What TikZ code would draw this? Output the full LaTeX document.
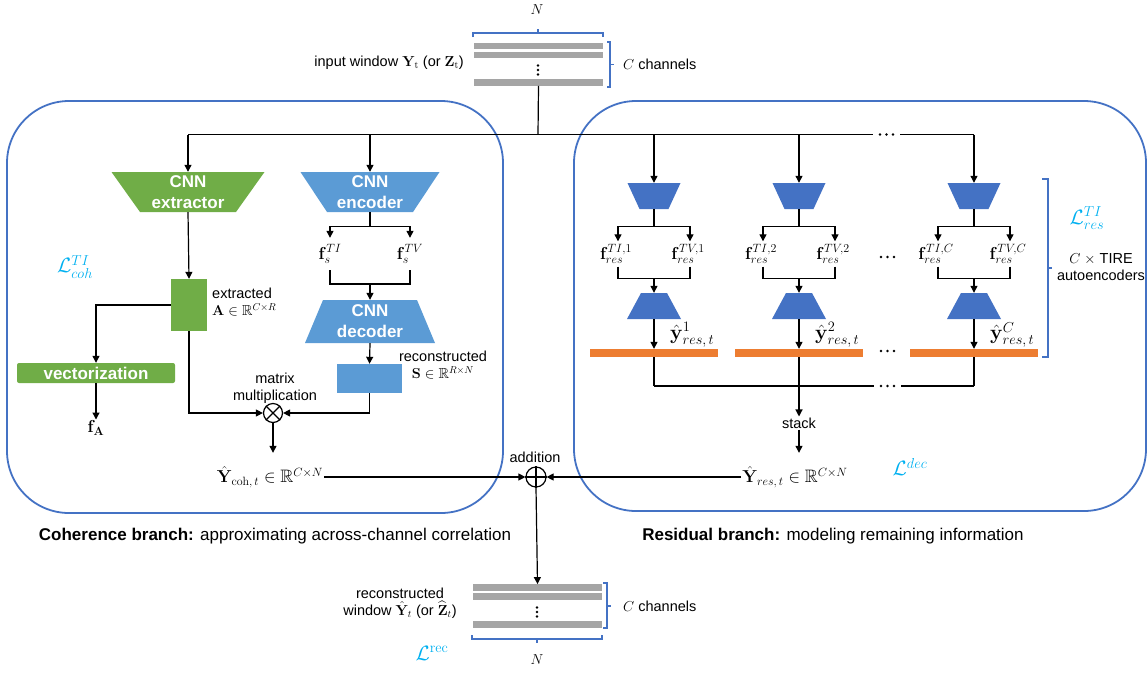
\documentclass[tikz,border=0pt]{standalone}
\usepackage{amssymb}
\usepackage[no-math]{fontspec}
\setmainfont{Liberation Sans}
\usetikzlibrary{arrows.meta,calc}

\definecolor{cgreen}{HTML}{70AD47}
\definecolor{clblue}{HTML}{5B9BD5}
\definecolor{cdblue}{HTML}{4472C4}
\definecolor{corange}{HTML}{ED7D31}
\definecolor{cgray}{HTML}{A5A5A5}
\definecolor{ccyan}{HTML}{00B0F0}

\newcommand\mydotsh[2]{\foreach \dd in {-6.5,0,6.5} \fill ({#1+\dd},#2) circle (1.4pt);}
\newcommand\mydotsv[2]{\foreach \dd in {-4.5,0,4.5} \fill (#1,{#2+\dd}) circle (1.4pt);}

\begin{document}
\begin{tikzpicture}[x=1pt,y=-1pt,
  every node/.style={font=\fontsize{14.5}{17}\selectfont, inner sep=1pt},
  mlbl/.style={font=\fontsize{18}{21}\selectfont},
  mlbll/.style={font=\fontsize{19.5}{23}\selectfont},
  conn/.style={line width=1.2pt, draw=black},
  arr/.style={conn, -{Triangle[length=7pt,width=7pt]}},
  panel/.style={draw=cdblue, line width=1.8pt, rounded corners=62pt},
  brace/.style={draw=cdblue, line width=1.3pt},
  gbar/.style={fill=cgray, draw=none, minimum width=129pt, minimum height=6.5pt, inner sep=0pt},
  obar/.style={fill=corange, draw=none, minimum width=128pt, minimum height=8pt, inner sep=0pt},
  lossL/.style={text=ccyan, font=\fontsize{21}{25}\selectfont},
  boldlbl/.style={text=white, font=\fontsize{17}{21}\selectfont\bfseries, align=center},
  trapshape/.style n args={3}{inner sep=0pt,
     path picture={\fill[#3] ([xshift=#1]path picture bounding box.north west)
        -- ([xshift=-#1]path picture bounding box.north east)
        -- ([xshift=-#2]path picture bounding box.south east)
        -- ([xshift=#2]path picture bounding box.south west) -- cycle;}},
  opcirc/.style={circle, draw, line width=1.2pt, minimum size=19pt, inner sep=0pt},
]
\useasboundingbox (0,0) rectangle (1148,673);

% ---------- panels ----------
\draw[panel] (7,101) rectangle (503,513);
\draw[panel] (574,101) rectangle (1146,511);

% ---------- input window ----------
\node (Ntop) at (537,10) {$N$};
\node[gbar] (ib1) at (538.5,46) {};
\node[gbar] (ib2) at (538.5,55) {};
\node[gbar] (ib3) at (538.5,82.5) {};
\mydotsv{538}{70}
\draw[brace] (473,37) -- (473,33) -- (603,33) -- (603,37) (538,33) -- (538,29);
\draw[brace] (607,42) -- (610,42) -- (610,87) -- (607,87) (610,64.5) -- (613.5,64.5);
\node[anchor=west] (ctop) at (622,64) {$C$ channels};
\node[anchor=east] (inlbl) at (465,63) {input window $\mathbf{Y}_{\mathrm{t}}$ (or $\mathbf{Z}_{\mathrm{t}}$)};
\coordinate (split) at (538,134.5);
\draw[conn] (ib3.south) -- (split);

% ---------- coherence branch ----------
\node[trapshape={0pt}{28.5pt}{cgreen}, minimum width=153pt, minimum height=40pt, boldlbl] (ext) at (188,192) {CNN\\extractor};
\node[trapshape={0pt}{26.5pt}{clblue}, minimum width=139pt, minimum height=40pt, boldlbl] (enc) at (370,192) {CNN\\encoder};
\coordinate (encj) at (370,226.5);
\node[mlbl, minimum height=32pt] (fsTI) at (330,254) {$\mathbf{f}_{s}^{TI}$};
\node[mlbl, minimum height=32pt] (fsTV) at (410,254) {$\mathbf{f}_{s}^{TV}$};
\coordinate (decj) at (370,284);
\node[trapshape={18pt}{0pt}{clblue}, minimum width=130pt, minimum height=43pt, boldlbl] (dec) at (370,321.5) {CNN\\decoder};
\node[fill=clblue, minimum width=65pt, minimum height=29pt, inner sep=0pt] (S) at (369.5,378.5) {};
\node[align=center] (Slbl) at (443,365) {reconstructed\\$\mathbf{S}\in\mathbb{R}^{R\times N}$};
\node[fill=cgreen, minimum width=36pt, minimum height=52pt, inner sep=0pt] (A) at (189,305) {};
\node[align=left, anchor=west] (Albl) at (211,302) {extracted\\$\mathbf{A}\in\mathbb{R}^{C\times R}$};
\node[fill=cgreen, rounded corners=2pt, minimum width=158pt, minimum height=20pt, inner sep=0pt,
      text=white, font=\fontsize{17}{21}\selectfont\bfseries] (vec) at (96,373) {vectorization};
\node[mlbl] (fA) at (96,428) {$\mathbf{f}_{\mathbf{A}}$};
\node[opcirc] (ot) at (273,413) {};
\draw[conn] (ot.north west) -- (ot.south east) (ot.north east) -- (ot.south west);
\node[align=center] (mmlbl) at (275,388) {matrix\\multiplication};
\node[mlbl, minimum height=48pt] (Ycoh) at (270,477) {$\hat{\mathbf{Y}}_{\mathrm{coh},\,t}\in\mathbb{R}^{C\times N}$};
\node[lossL] (Lcoh) at (75,267) {$\mathcal{L}_{coh}^{TI}$};

\draw[arr] (ext.north |- split) -- (ext.north);
\draw[arr] (enc.north |- split) -- (enc.north);
\draw[conn] (enc.south) -- (encj);
\draw[arr] (encj) -| (fsTI.north);
\draw[arr] (encj) -| (fsTV.north);
\draw[conn] (fsTI.south) |- (decj);
\draw[conn] (fsTV.south) |- (decj);
\draw[arr] (decj) -- (dec.north);
\draw[arr] (dec.south) -- (S.north);
\draw[arr] (ext.south) -- (A.north);
\draw[arr] (A.west) -| (vec.north);
\draw[arr] (vec.south) -- (fA.north);
\draw[arr] (A.south) |- (ot.west);
\draw[arr] (S.south) |- (ot.east);
\draw[arr] (ot.south) -- (ot.south |- Ycoh.north);

% ---------- addition ----------
\node[opcirc, minimum size=20pt] (op) at (536,477) {};
\draw[conn] (op.north) -- (op.south) (op.east) -- (op.west);
\node (addlbl) at (535,457) {addition};

% ---------- residual branch ----------
\foreach \i/\x/\s in {1/654/1,2/799/2,3/974/C}{
  \node[trapshape={0pt}{12pt}{cdblue}, minimum width=53pt, minimum height=26pt] (ce\i) at (\x,196) {};
  \coordinate (cej\i) at (\x,226.5);
  \node[mlbl, minimum height=25pt] (fl\i) at (\x-38,254) {$\mathbf{f}_{res}^{TI,\s}$};
  \node[mlbl, minimum height=25pt] (fr\i) at (\x+34,254) {$\mathbf{f}_{res}^{TV,\s}$};
  \coordinate (cdj\i) at (\x,278.5);
  \node[trapshape={14pt}{0pt}{cdblue}, minimum width=54pt, minimum height=26pt] (cd\i) at (\x,306) {};
  \node[obar] (ob\i) at (\x,353) {};
  \node[mlbll, anchor=west] (yl\i) at (\x+15,335) {$\hat{\mathbf{y}}_{res,\,t}^{\s}$};
  \coordinate (sj\i) at (\x,386);
  \draw[arr] (ce\i.north |- split) -- (ce\i.north);
  \draw[conn] (ce\i.south) -- (cej\i);
  \draw[arr] (cej\i) -| ([xshift=2pt]fl\i.north);
  \draw[arr] (cej\i) -| ([xshift=2pt]fr\i.north);
  \draw[conn] ([xshift=2pt]fl\i.south) |- (cdj\i);
  \draw[conn] ([xshift=2pt]fr\i.south) |- (cdj\i);
  \draw[arr] (cdj\i) -- (cd\i.north);
  \draw[arr] (cd\i.south) -- (ob\i.north);
  \draw[conn] (ob\i.south) -- (sj\i);
}
\coordinate (dTopL) at (873,134.5);
\coordinate (dTopR) at (900,134.5);
\draw[conn] (ext.north |- split) -- (dTopL);
\draw[conn] (dTopR) -- (ce3.north |- split);
\mydotsh{886.5}{134.5}
\mydotsh{887.5}{257}
\mydotsh{887.5}{351}
\coordinate (dBotL) at (874,386);
\coordinate (dBotR) at (901,386);
\draw[conn] (sj1) -- (dBotL);
\draw[conn] (dBotR) -- (sj3);
\mydotsh{887.5}{386}

\node (stack) at (799,423) {stack};
\node[mlbl, minimum height=48pt] (Yres) at (795,477) {$\hat{\mathbf{Y}}_{res,\,t}\in\mathbb{R}^{C\times N}$};
\node[lossL] (Ldec) at (910,467) {$\mathcal{L}^{dec}$};
\draw[arr] (sj2) -- (stack.north);
\draw[arr] (stack.south) -- (stack.south |- Yres.north);

\draw[brace] (1042,179) -- (1048,179) -- (1048,357) -- (1042,357) (1048,268) -- (1052,268);
\node[lossL] (Lres) at (1087,218) {$\mathcal{L}_{res}^{TI}$};
\node[align=center] (tire) at (1101,267) {$C$ $\times$ TIRE\\autoencoders};

\draw[arr] (Ycoh.east) -- (op.west);
\draw[arr] (Yres.west) -- (op.east);

% ---------- captions ----------
\node[font=\fontsize{17}{20}\selectfont] (capL) at (275,536) {\textbf{Coherence branch:} approximating across-channel correlation};
\node[font=\fontsize{17}{20}\selectfont] (capR) at (833,536) {\textbf{Residual branch:} modeling remaining information};

% ---------- output window ----------
\node[gbar] (rb1) at (537.5,587.5) {};
\node[gbar] (rb2) at (537.5,596.5) {};
\node[gbar] (rb3) at (537.5,624.5) {};
\mydotsv{537}{612}
\draw[arr] (op.south) -- (rb1.north);
\draw[brace] (603,583) -- (607,583) -- (607,628) -- (603,628) (607,606) -- (611,606);
\node[anchor=west] (cbot) at (622,606) {$C$ channels};
\draw[brace] (472,635) -- (472,639) -- (602,639) -- (602,635) (537,639) -- (537,643);
\node (Nbot) at (537,660) {$N$};
\node[align=center] (outlbl) at (400,603) {reconstructed\\window $\hat{\mathbf{Y}}_t$ (or $\widehat{\mathbf{Z}}_t$)};
\node[lossL] (Lrec) at (432,653) {$\mathcal{L}^{\mathrm{rec}}$};
\end{tikzpicture}
\end{document}
